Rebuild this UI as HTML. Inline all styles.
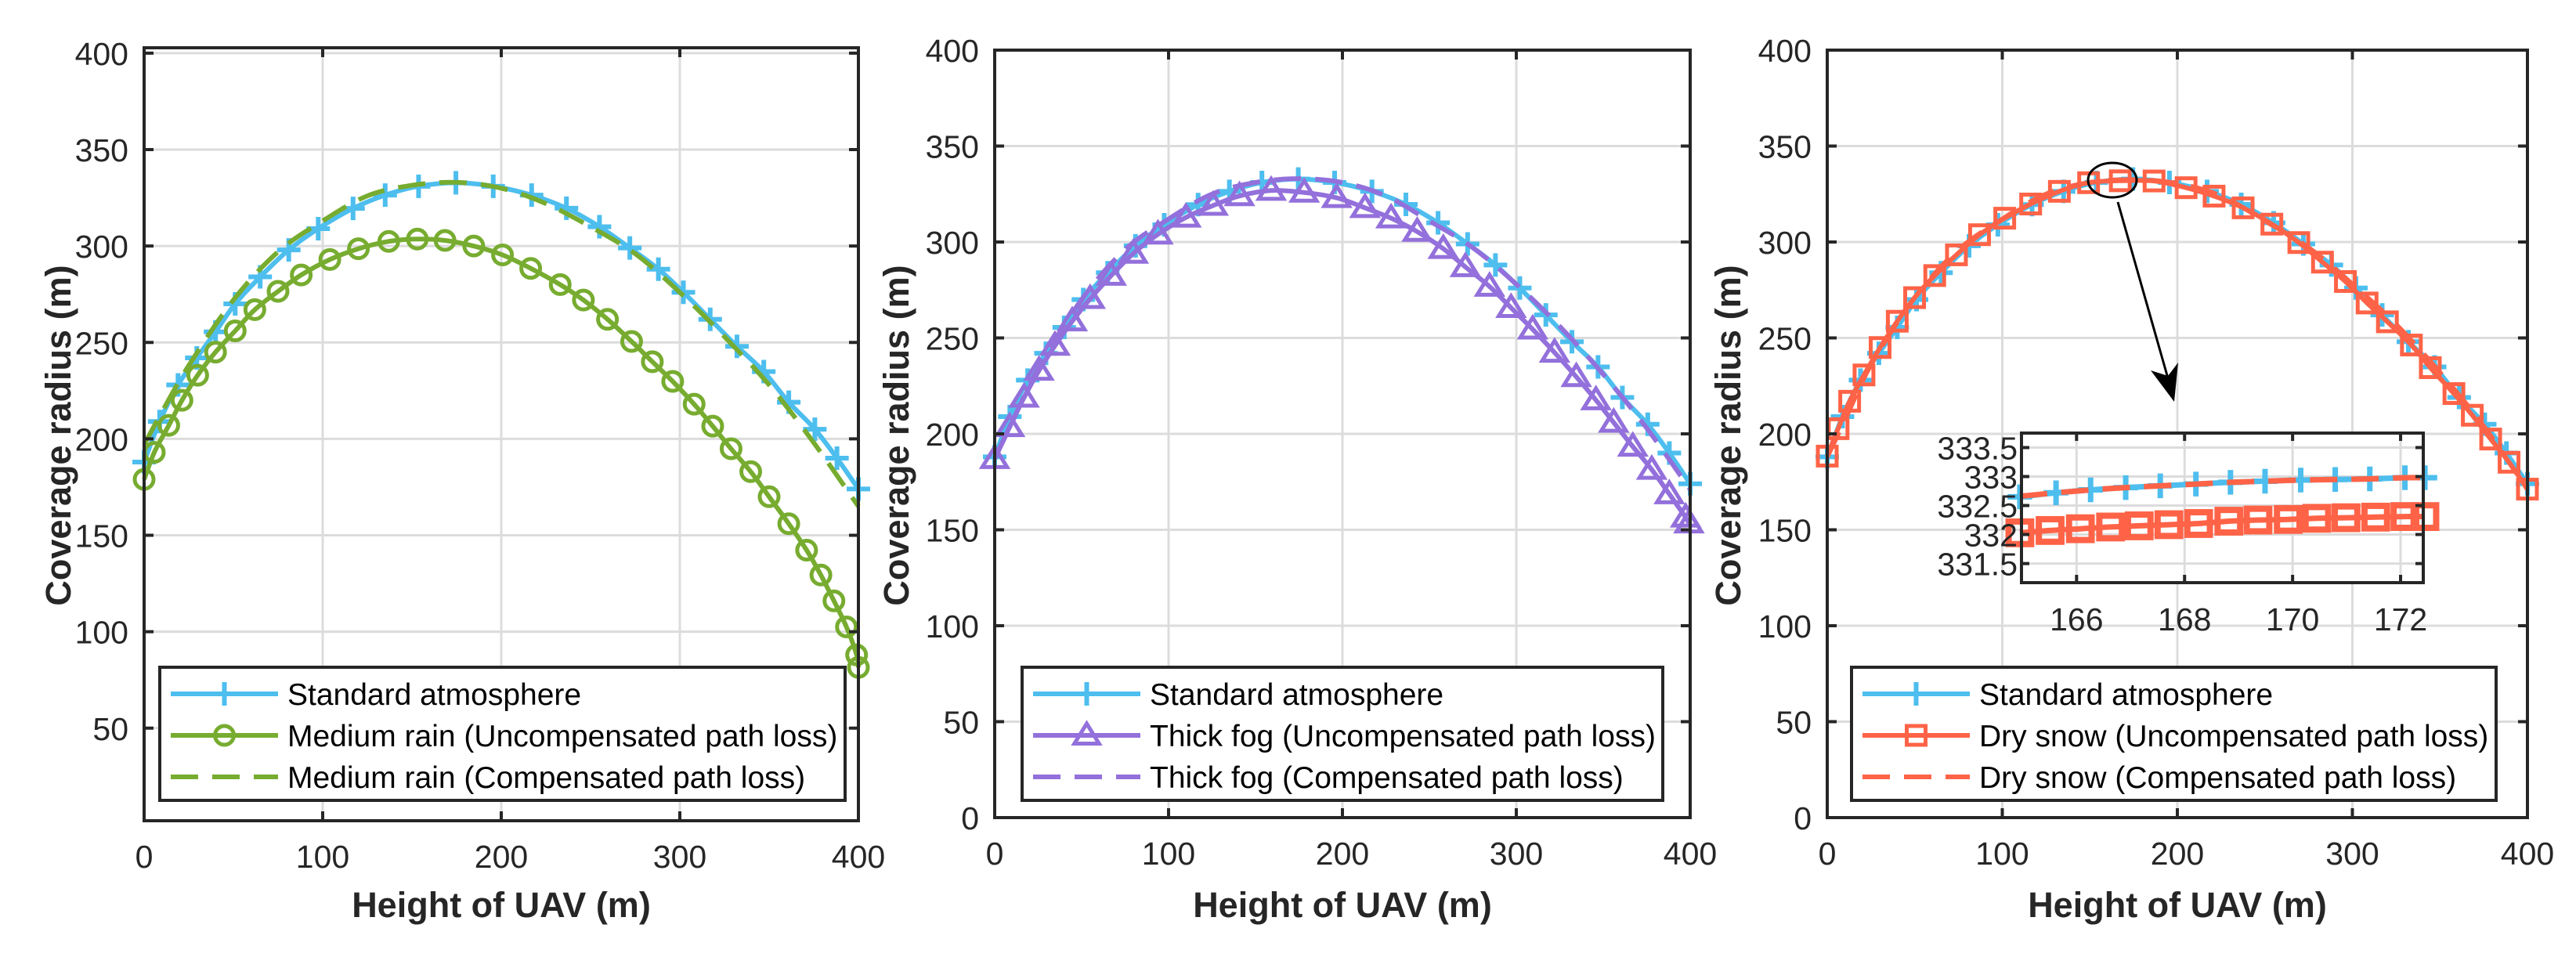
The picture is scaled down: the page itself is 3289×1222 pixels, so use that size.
<!DOCTYPE html>
<html><head><meta charset="utf-8"><style>
html,body{margin:0;padding:0;background:#fff;}
svg{display:block;font-family:"Liberation Sans",Arial,sans-serif;}
</style></head><body>
<svg id="fig" xmlns="http://www.w3.org/2000/svg" width="3289" height="1222" viewBox="0 0 3289 1222"></svg>
<script>
const xTicks=[0,100,200,300,400];
const yTicksP1=[50,100,150,200,250,300,350,400];
const yTicks=[0,50,100,150,200,250,300,350,400];
const stdX=[0,8.7,19,29.5,40,51,65,81,97.5,117,135,153.7,174.6,195.5,217,236.5,255,272,288,302,317,332,347,361,375.6,388,400];
const stdY=[188,209,228,242,255.5,270,284,298,309,319.5,326.4,331,332.8,331,326.4,319.6,310,299,288,276,262,248,234.9,219,205,190,174];
const rainUncX=[0,5.7,13.8,21.2,30,40,51,62,75,88,104,120,137,153,168.5,184.6,200.7,216.5,233,246,259.5,273,284.6,296,308,318.4,328.7,339.7,350,361,371,379,386.3,393.3,399,400];
const rainUncY=[179,193,207,220,233,245,256,267,276.5,285,293,298.6,302.4,303.6,302.9,300,295.4,288.4,280,272,262,250.5,240,229.8,218,206.6,194.9,183,170,156,142.3,129.4,116,102.5,88,81.5];
const compX=[0,10,25,50,75,100,125,150,175,200,225,250,275,300,325,350,375,400];
const rainCompY=[197,214,238,272,297,313,326,331.5,333,330,322,310,296,276,253,228,198,165];
const fogUncX=[0,8.6,16.9,25.5,34.7,44.6,54.9,67,79.7,93.9,110,125.6,140.8,159,178,196.7,213,228,243,258,270.7,284.6,297,309.4,322,334.5,345.8,356,367,377.9,388,397.4,399.3];
const fogUncY=[187,203.6,219,233,246,258.7,270.4,282.5,294,304,312.8,319,324,326.8,325.8,323,317.8,312.4,305.4,296.5,287,276.8,265.7,254.5,242.4,229.7,217.6,205.9,193.4,181.4,168.6,156.5,153.4];
const fogCompY=[187,206,234,270,296,312,325,331,333,331,324,311,297,278,256,231,203,171];
const snowUncX=[0,6.2,12.8,21,30.2,40,49.9,61.4,73.8,87,101.4,116.2,132.6,149.3,167.4,186.7,205,221,237.6,254,269.4,282.9,296,308.4,320,333.7,344.5,358,368.5,379,389.5,400];
const snowUncY=[188.4,202.7,217,230.7,245,258.7,271,282.5,293.3,303.8,312.4,319.8,326.4,330.9,331.9,331.8,328.3,323.9,317.8,309.3,299.7,289.5,279.4,268.2,258.4,246.3,234.5,221,209.7,197.3,185.2,171.2];
const snowCompY=[188,207,236,271,296,312,325,331,332.5,330.5,324,311,297,278,257,232,204,171];
const insetXTicks=[166,168,170,172];
const insetYTicks=[331.5,332,332.5,333,333.5];
const insetYTickLabels=["331.5","332","332.5","333","333.5"];
const insetStdX=[164.95,165.62,166.26,166.91,167.55,168.21,168.85,169.49,170.15,170.79,171.43,172.08,172.45];
const insetStdY=[332.65,332.72,332.77,332.81,332.84,332.87,332.90,332.92,332.94,332.95,332.96,332.98,332.98];
const insetSnowX=[164.95,165.51,166.07,166.63,167.16,167.71,168.26,168.82,169.36,169.92,170.45,170.99,171.54,172.08,172.45];
const insetSnowY=[332.03,332.07,332.10,332.13,332.15,332.17,332.19,332.23,332.25,332.26,332.28,332.29,332.30,332.31,332.31];
const insetCompY=[332.66,332.72,332.77,332.81,332.84,332.87,332.90,332.92,332.94,332.95,332.96,332.98,332.98];

const NS="http://www.w3.org/2000/svg";
const svg=document.getElementById('fig');
const BLUE="#4DBEEE",GREEN="#77AC30",PURPLE="#9370DB",RED="#FF6347",INK="#262626",GRID="#dcdcdc";
function el(tag,attrs,parent){const e=document.createElementNS(NS,tag);for(const k in attrs)e.setAttribute(k,attrs[k]);(parent||svg).appendChild(e);return e;}
function txt(s,attrs,parent){const t=el('text',attrs,parent);t.textContent=s;return t;}
function smoothPath(pts){
  if(pts.length<2)return '';
  let d='M'+pts[0][0].toFixed(1)+','+pts[0][1].toFixed(1);
  for(let i=0;i<pts.length-1;i++){
    const p0=pts[i>0?i-1:i],p1=pts[i],p2=pts[i+1],p3=pts[i+2<pts.length?i+2:i+1];
    const c1x=p1[0]+(p2[0]-p0[0])/6,c1y=p1[1]+(p2[1]-p0[1])/6;
    const c2x=p2[0]-(p3[0]-p1[0])/6,c2y=p2[1]-(p3[1]-p1[1])/6;
    d+=' C'+c1x.toFixed(1)+','+c1y.toFixed(1)+' '+c2x.toFixed(1)+','+c2y.toFixed(1)+' '+p2[0].toFixed(1)+','+p2[1].toFixed(1);
  }
  return d;
}
function marker(type,x,y,color,g,size,sw){
  size=size||1;sw=sw||5;
  let m;
  if(type==='plus'){m=el('path',{d:`M${x-15*size},${y}H${x+15*size}M${x},${y-15*size}V${y+15*size}`,stroke:color,'stroke-width':sw+1,fill:'none'},g);}
  else if(type==='circle'){m=el('circle',{cx:x,cy:y,r:12*size,stroke:color,'stroke-width':sw,fill:'none'},g);}
  else if(type==='tri'){const r=15*size;m=el('path',{d:`M${x},${y-r}L${x+r*1.05},${y+r*0.7}L${x-r*1.05},${y+r*0.7}Z`,stroke:color,'stroke-width':sw,fill:'none'},g);}
  else if(type==='square'){const r=12*size;m=el('rect',{x:x-r,y:y-r,width:2*r,height:2*r,stroke:color,'stroke-width':sw,fill:'none'},g);}
  
  
}
function drawSeries(g,X,Y,sx,sy,color,opts){
  const pts=X.map((v,i)=>[sx(v),sy(Y[i])]);
  const p=el('path',{d:smoothPath(pts),stroke:color,'stroke-width':opts.lw||6,fill:'none','stroke-dasharray':opts.dash?'35 18':'none','stroke-linejoin':'round'},g);
  
  
  if(opts.marker)pts.forEach(q=>marker(opts.marker,q[0],q[1],color,g,opts.msize,opts.msw));
}
function panel(cfg){
  const g=el('g',{});
  
  
  const {L,R,T,B,ymin,ymax}=cfg;
  const sx=v=>L+(v-0)/400*(R-L);
  const sy=v=>B-(v-ymin)/(ymax-ymin)*(B-T);
  xTicks.forEach(t=>{if(t>0&&t<400){const l=el('line',{x1:sx(t),x2:sx(t),y1:T,y2:B,stroke:GRID,'stroke-width':3},g);}});
  cfg.yt.forEach(t=>{const l=el('line',{x1:L,x2:R,y1:sy(t),y2:sy(t),stroke:GRID,'stroke-width':3},g);});
  cfg.series.forEach(s=>drawSeries(g,s.X,s.Y,sx,sy,s.color,s));
  const box=el('rect',{x:L,y:T,width:R-L,height:B-T,fill:'none',stroke:INK,'stroke-width':4},g);
  
  xTicks.forEach(t=>{
    el('path',{d:`M${sx(t)},${B}v-12M${sx(t)},${T}v12`,stroke:INK,'stroke-width':4},g);
    const lb=txt(String(t),{x:sx(t),y:B+60,'font-size':41,'text-anchor':'middle',fill:INK},g);
    
  });
  cfg.yt.forEach(t=>{
    el('path',{d:`M${L},${sy(t)}h12M${R},${sy(t)}h-12`,stroke:INK,'stroke-width':4},g);
    const lb=txt(String(t),{x:L-20,y:sy(t)+15,'font-size':41,'text-anchor':'end',fill:INK},g);
    
  });
  const xt=txt('Height of UAV (m)',{x:(L+R)/2,y:1171,'font-size':45,'font-weight':'bold','text-anchor':'middle',fill:INK},g);
  
  const yt=txt('Coverage radius (m)',{x:0,y:0,'font-size':45,'font-weight':'bold','text-anchor':'middle',fill:INK,transform:`translate(${cfg.ytx},556) rotate(-90)`},g);
  
  const lg=el('g',{},g);
  
  const lb=el('rect',{x:cfg.lgL,y:852,width:cfg.lgR-cfg.lgL,height:170,fill:'#fff',stroke:INK,'stroke-width':4},lg);
  
  cfg.series.forEach((s,i)=>{
    const y=886+i*53,x0=cfg.lgL+14,x1=cfg.lgL+151;
    const e=el('g',{},lg);
    
    el('line',{x1:x0,x2:x1,y1:y,y2:y,stroke:s.color,'stroke-width':6,'stroke-dasharray':s.dash?'35 18':'none'},e);
    if(s.marker)marker(s.marker,(x0+x1)/2,y,s.color,e,1,5);
    txt(s.label,{x:cfg.lgL+163,y:y+14,'font-size':39,fill:'#000'},e);
  });
  return {g,sx,sy};
}
panel({name:'panel-medium-rain',L:184,R:1096,T:61,B:1048,ymin:2,ymax:402.8,yt:yTicksP1,ytx:90,lgL:204,lgR:1079,
  series:[{X:stdX,Y:stdY,color:BLUE,marker:'plus',name:'standard-atmosphere-line',label:'Standard atmosphere'},
          {X:rainUncX,Y:rainUncY,color:GREEN,marker:'circle',name:'medium-rain-uncompensated-line',label:'Medium rain (Uncompensated path loss)'},
          {X:compX,Y:rainCompY,color:GREEN,dash:true,name:'medium-rain-compensated-line',label:'Medium rain (Compensated path loss)'}]});
panel({name:'panel-thick-fog',L:1270,R:2158,T:64,B:1044,ymin:0,ymax:400,yt:yTicks,ytx:1160,lgL:1305,lgR:2123,
  series:[{X:stdX,Y:stdY,color:BLUE,marker:'plus',name:'standard-atmosphere-line',label:'Standard atmosphere'},
          {X:fogUncX,Y:fogUncY,color:PURPLE,marker:'tri',name:'thick-fog-uncompensated-line',label:'Thick fog (Uncompensated path loss)'},
          {X:compX,Y:fogCompY,color:PURPLE,dash:true,name:'thick-fog-compensated-line',label:'Thick fog (Compensated path loss)'}]});
panel({name:'panel-dry-snow',L:2333,R:3227,T:64,B:1044,ymin:0,ymax:400,yt:yTicks,ytx:2222,lgL:2364,lgR:3187,
  series:[{X:stdX,Y:stdY,color:BLUE,marker:'plus',name:'standard-atmosphere-line',label:'Standard atmosphere'},
          {X:snowUncX,Y:snowUncY,color:RED,marker:'square',name:'dry-snow-uncompensated-line',label:'Dry snow (Uncompensated path loss)'},
          {X:compX,Y:snowCompY,color:RED,dash:true,name:'dry-snow-compensated-line',label:'Dry snow (Compensated path loss)'}]});

const ell=el('ellipse',{cx:2697,cy:230,rx:31,ry:22,fill:'none',stroke:'#000','stroke-width':3});

const arr=el('line',{x1:2704,y1:258,x2:2770,y2:490,stroke:'#000','stroke-width':3});

const ah=el('path',{d:'M2776,513L2746,473L2768,480L2781,463Z',fill:'#000'});


(function(){
  const L=2581,R=3094,T=553,B=744,xmin=164.98,xmax=172.42,ymin=331.17,ymax=333.75;
  const sx=v=>L+(v-xmin)/(xmax-xmin)*(R-L);
  const sy=v=>B-(v-ymin)/(ymax-ymin)*(B-T);
  const g=el('g',{});
  
  el('rect',{x:L,y:T,width:R-L,height:B-T,fill:'#fff'},g);
  insetXTicks.forEach(t=>el('line',{x1:sx(t),x2:sx(t),y1:T,y2:B,stroke:GRID,'stroke-width':3},g));
  insetYTicks.forEach(t=>el('line',{x1:L,x2:R,y1:sy(t),y2:sy(t),stroke:GRID,'stroke-width':3},g));
  drawSeries(g,insetStdX,insetStdY,sx,sy,BLUE,{marker:'plus',name:'inset-standard-line',lw:7,msize:1.05,msw:6});
  drawSeries(g,insetSnowX,insetSnowY,sx,sy,RED,{marker:'square',name:'inset-dry-snow-uncompensated-line',lw:7,msize:1.2,msw:8});
  drawSeries(g,insetStdX,insetCompY,sx,sy,RED,{dash:true,name:'inset-dry-snow-compensated-line',lw:7});
  el('rect',{x:L,y:T,width:R-L,height:B-T,fill:'none',stroke:INK,'stroke-width':4},g);
  insetXTicks.forEach(t=>{
    el('path',{d:`M${sx(t)},${B}v-10M${sx(t)},${T}v10`,stroke:INK,'stroke-width':4},g);
    const lb=txt(String(t),{x:sx(t),y:805,'font-size':41,'text-anchor':'middle',fill:INK},g);
    
  });
  insetYTicks.forEach((t,i)=>{
    el('path',{d:`M${L},${sy(t)}h10M${R},${sy(t)}h-10`,stroke:INK,'stroke-width':4},g);
    const lb=txt(insetYTickLabels[i],{x:L-5,y:sy(t)+15,'font-size':41,'text-anchor':'end',fill:INK},g);
    
  });
})();
</script>
</body></html>
